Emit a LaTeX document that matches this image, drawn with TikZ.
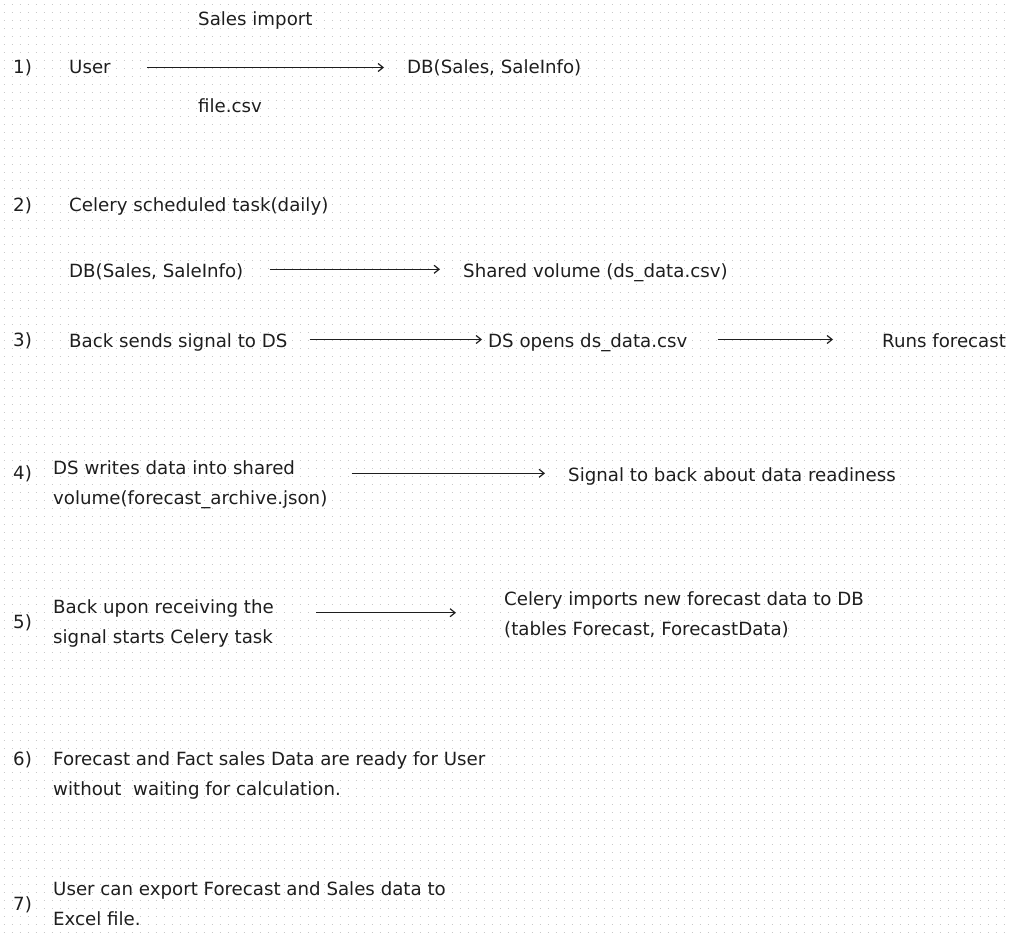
\documentclass[tikz,border=0pt]{standalone}
\usepackage{fontspec}
\setmainfont{DejaVu Sans}
\usetikzlibrary{arrows.meta}
\definecolor{ink}{HTML}{1E1E1E}
\definecolor{dotgray}{HTML}{C8C8C8}
\tikzset{
  txt/.style={anchor=base west, inner sep=0pt, text=ink, font=\fontsize{18.2}{30}\selectfont},
  flow/.style={draw=ink, line width=1.2pt, -{Straight Barb[length=5pt,width=8pt]}},
  dotrow/.style={dotgray, line width=1pt, dash pattern=on 1pt off 7pt}
}

\begin{document}
\begin{tikzpicture}[x=1pt, y=-1pt]
  \useasboundingbox (0,0) rectangle (1010,934);
  % dotted background
  \foreach \r in {0,...,116}
    \draw[dotrow] (3.5,{4.5+8*\r}) -- (1010,{4.5+8*\r});

  % 1) sales import
  \node[txt] (n1) at (13,74) {1)};
  \node[txt] (user) at (69,74) {User};
  \node[txt] (imp) at (198,26) {Sales import};
  \node[txt] (csv) at (198,113) {file.csv};
  \node[txt] (db1) at (407,74) {DB(Sales, SaleInfo)};
  \draw[flow] ([shift={(36,-6.5)}]user.base east) -- ([shift={(-23,-6.5)}]db1.base west);

  % 2) scheduled export
  \node[txt] (n2) at (13,211.7) {2)};
  \node[txt] (cel) at (69,211) {Celery scheduled task(daily)};
  \node[txt] (db2) at (69,277) {DB(Sales, SaleInfo)};
  \node[txt] (shv) at (463,277) {Shared volume (ds\_data.csv)};
  \draw[flow] ([shift={(26,-7.7)}]db2.base east) -- ([shift={(-23,-7.7)}]shv.base west);

  % 3) forecast run
  \node[txt] (n3) at (13,346.7) {3)};
  \node[txt] (back) at (69,347) {Back sends signal to DS};
  \node[txt] (dso) at (488,347) {DS opens ds\_data.csv};
  \node[txt] (runs) at (882,347) {Runs forecast};
  \draw[flow] ([shift={(22,-7.5)}]back.base east) -- ([shift={(-6,-7.5)}]dso.base west);
  \draw[flow] ([shift={(30,-7.5)}]dso.base east) -- ([shift={(-49,-7.5)}]runs.base west);

  % 4) results written back
  \node[txt] (n4) at (13,479.3) {4)};
  \node[txt] (s4a) at (53,474) {DS writes data into shared};
  \node[txt] (s4b) at (53,504) {volume(forecast\_archive.json)};
  \node[txt] (sig) at (568,481.5) {Signal to back about data readiness};
  \draw[flow] ([shift={(24,-30.7)}]s4b.base east) -- ([shift={(-23,-8.2)}]sig.base west);

  % 5) import into DB
  \node[txt] (n5) at (13,628.3) {5)};
  \node[txt] (s5a) at (53,613.3) {Back upon receiving the};
  \node[txt] (s5b) at (53,643.3) {signal starts Celery task};
  \node[txt] (cim) at (504,605.7) {Celery imports new forecast data to DB};
  \node[txt] (tbl) at (504,635) {(tables Forecast, ForecastData)};
  \draw[flow] ([shift={(43,-30.6)}]s5b.base east) -- ([shift={(-48,7)}]cim.base west);

  % 6) ready
  \node[txt] (n6) at (13,765.7) {6)};
  \node[txt] (s6a) at (53,765.7) {Forecast and Fact sales Data are ready for User};
  \node[txt] (s6b) at (53,795) {without~ waiting for calculation.};

  % 7) export
  \node[txt] (n7) at (13,910) {7)};
  \node[txt] (s7a) at (53,895.7) {User can export Forecast and Sales data to};
  \node[txt] (s7b) at (53,925) {Excel file.};
\end{tikzpicture}
\end{document}
